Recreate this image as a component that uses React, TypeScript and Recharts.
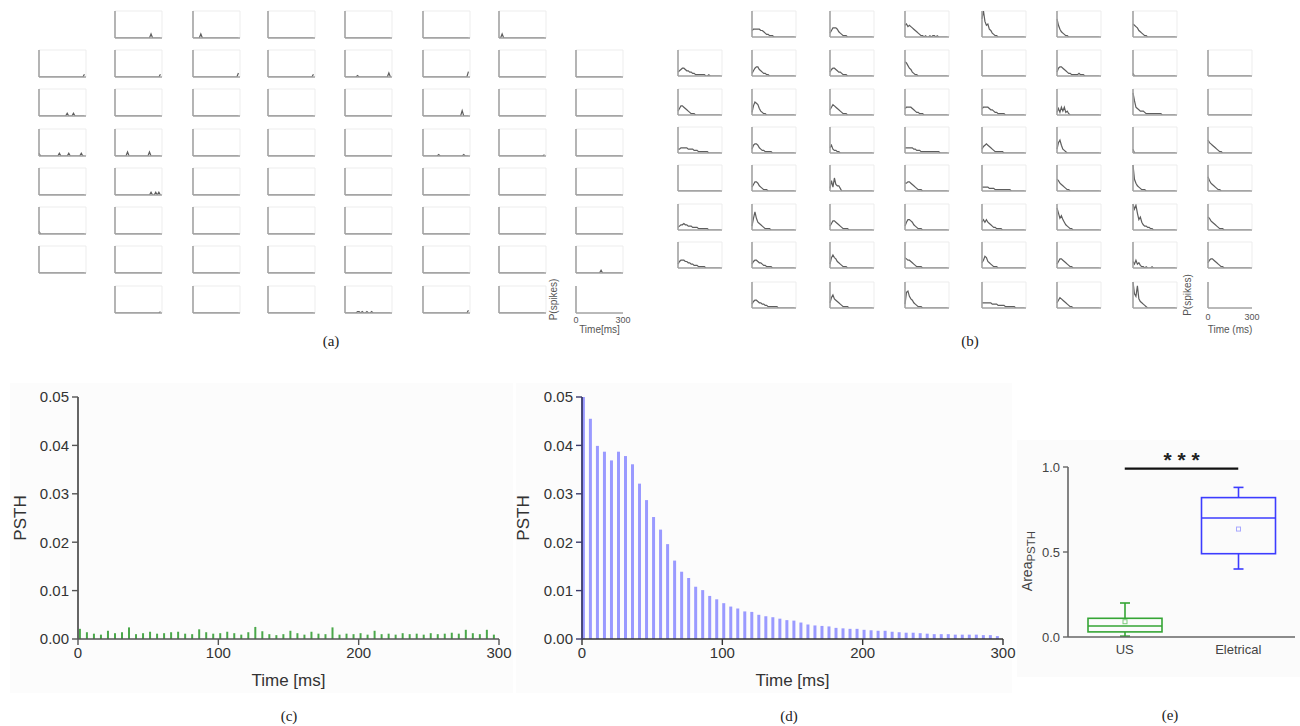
import React from 'react';
import { LineChart, Line, XAxis, YAxis, ReferenceLine, BarChart, Bar } from 'recharts';

const SANS = '"Liberation Sans", Arial, sans-serif';
const SERIF = '"Liberation Serif", "Times New Roman", serif';

// ---------------------------------------------------------------------------
// Per-electrode spike probability traces, 10 ms bins from 0 to 290 ms.
// Each character is one bin, base-36 digit in units of 0.01 (k = 0.20).
// Rows follow the 8x8 MEA layout; null marks an unused corner position.
// ---------------------------------------------------------------------------
const usGrid: (string | null)[][] = [
  [null, '000000000000000000000003', '000003', '0', '0', '0', '003', null],
  ['000000000000000000000000000002', '000000000000000000000000000002', '000000000000000000000000000003', '000000000000000000000000000002', '000000001000000000000000000030', '000000000000000000000000000004', '0', '0'],
  ['000000000000000000200020000000', '0', '0', '0', '0', '000000000000000000000000040000', '0', '0'],
  ['200000000000020000020000000200', '000000003000000000000030000000', '0', '0', '0', '000000000010000000000000001000', '000000000000000000000000000001', '0'],
  ['0', '000000000000000000000002002020', '0', '0', '0', '0', '0', '0'],
  ['200000000000000000000000000000', '0', '0', '0', '0', '0', '0', '0'],
  ['0', '0', '0', '0', '0', '0', '0', '000000000000000020000000000000'],
  [null, '000000000000000000000000000001', '0', '0', '000000001101001001000000000000', '000000000000000000000000000002', '0', null],
];

const elecGrid: (string | null)[][] = [
  [null, '566666554322111000000000000000', '357776432111000000000000000000', '9a8987654321101001011010000000', 'ekc9a6532110000000000000000000', 'e96432110000000000000000000000', 'a98754321100000000000000000000', null],
  ['345665443322111111100100000000', '246775432211000000000000000000', '356654332111000000000000000000', 'ba8653211000000000000000000000', '0', '367765432211111211100000000000', '2', '0'],
  ['357765432111000000000000000000', '27a985321100000000000000000000', '468765432111000000000000000000', '566665432211100000000000000000', '566665443221111100000000000000', '252636231000000000000000000000', 'hb6543332111111111110000000000', '0'],
  ['334444433332221111111000000000', '367764322111110000000000000000', '463221100000000000000000000000', '444444332221111111111111000000', '356765432111111000000000000000', '38a632100000000000000000000000', '3', 'a87654321100000000000000000000'],
  ['0', '357764321110000000000000000000', '283a54420000000000000000000000', '667765432111000000000000000000', '333332222111111111110000000000', '986543211000000000000000000000', 'k96432111000000000000000000000', 'b86543211000000000000000000000'],
  ['234454433322221111111000000000', '39e965432111100000000000000000', '357765432111100000000000000000', '368876432111000000000000000000', '686865432211110000000000000000', 'hd9b86432110000000000000000000', 'kgjd8a643322110000000000000000', 'a97654321110000000000000000000'],
  ['356665544332221111100000000000', '356654432211110000000000000000', '38a875432111000000000000000000', '876654321111000000000000000000', '469854321110000000000000000000', '357765432110000000000000000000', '536342110100010000000000000000', '467765432110000000000000000000'],
  [null, '356654433221111111000000000000', '48a765432111100000000000000000', '3cd976432111000000000000000000', '444444433332222211111110000000', '468765432110000000000000000000', 'kb9h75432100000000000000000000', null],
];

// Population PSTH, 5 ms bins (bin start in ms)
const binStartMs = [
  0, 5, 10, 15, 20, 25, 30, 35, 40, 45, 50, 55, 60, 65, 70, 75, 80, 85, 90, 95,
  100, 105, 110, 115, 120, 125, 130, 135, 140, 145, 150, 155, 160, 165, 170, 175, 180, 185, 190, 195,
  200, 205, 210, 215, 220, 225, 230, 235, 240, 245, 250, 255, 260, 265, 270, 275, 280, 285, 290, 295,
];

const usPsth = [
  0.0021, 0.0014, 0.0011, 0.0009, 0.0017, 0.0012, 0.0014, 0.0024, 0.0010, 0.0012,
  0.0015, 0.0011, 0.0012, 0.0014, 0.0015, 0.0011, 0.0010, 0.0020, 0.0014, 0.0011,
  0.0012, 0.0015, 0.0012, 0.0009, 0.0014, 0.0025, 0.0016, 0.0010, 0.0008, 0.0010,
  0.0017, 0.0012, 0.0009, 0.0015, 0.0011, 0.0010, 0.0024, 0.0009, 0.0011, 0.0010,
  0.0012, 0.0009, 0.0017, 0.0010, 0.0011, 0.0009, 0.0012, 0.0010, 0.0011, 0.0009,
  0.0012, 0.0010, 0.0011, 0.0013, 0.0011, 0.0019, 0.0012, 0.0010, 0.0019, 0.0009,
];

const elecPsth = [
  0.0500, 0.0455, 0.0399, 0.0387, 0.0369, 0.0387, 0.0378, 0.0361, 0.0321, 0.0287,
  0.0252, 0.0226, 0.0196, 0.0162, 0.0139, 0.0126, 0.0108, 0.0101, 0.0089, 0.0082,
  0.0074, 0.0067, 0.0063, 0.0057, 0.0056, 0.0050, 0.0047, 0.0045, 0.0042, 0.0039,
  0.0038, 0.0034, 0.0030, 0.0028, 0.0027, 0.0026, 0.0023, 0.0022, 0.0021, 0.0021,
  0.0019, 0.0018, 0.0017, 0.0017, 0.0015, 0.0014, 0.0013, 0.0013, 0.0012, 0.0011,
  0.0010, 0.0010, 0.0010, 0.0009, 0.0009, 0.0009, 0.0009, 0.0008, 0.0008, 0.0006,
];

const psthTicksY = [0, 0.01, 0.02, 0.03, 0.04, 0.05];
const timeTicks = [0, 100, 200, 300];

// Area under the PSTH, box summary per stimulation type
const boxGroups = ['US', 'Eletrical'];
const boxMin = [0.005, 0.40];
const boxQ1 = [0.03, 0.49];
const boxMedian = [0.065, 0.70];
const boxQ3 = [0.11, 0.82];
const boxMax = [0.20, 0.88];
const boxMean = [0.09, 0.635];
const areaTicks = [0, 0.5, 1];

const boxColor: Record<string, string> = { US: '#35a535', Eletrical: '#3c3cff' };
const meanColor: Record<string, string> = { US: '#7ccc7c', Eletrical: '#a8a8ff' };

// ---------------------------------------------------------------------------
const BIN_MS = 10;
const BAR_SHIFT_MS = 1;

function decodeTrace(code: string) {
  return code
    .padEnd(30, '0')
    .slice(0, 30)
    .split('')
    .map((ch, i) => ({ t: i * BIN_MS, v: parseInt(ch, 36) * 0.01 }));
}

const usPsthData = binStartMs.map((t, i) => ({ t: t + BAR_SHIFT_MS, v: usPsth[i] }));
const elecPsthData = binStartMs.map((t, i) => ({ t: t + BAR_SHIFT_MS, v: elecPsth[i] }));
const boxData = boxGroups.map((name, i) => ({
  name,
  min: boxMin[i],
  q1: boxQ1[i],
  median: boxMedian[i],
  q3: boxQ3[i],
  max: boxMax[i],
  mean: boxMean[i],
}));

const miniAxis = { stroke: '#a2a2a2', strokeWidth: 1.6 };
const miniFrame = '#ededed';

type MiniProps = { code: string; left: number; top: number; w: number; h: number };

function MiniTrace({ code, left, top, w, h }: MiniProps) {
  const data = decodeTrace(code);
  return (
    <div style={{ position: 'absolute', left: left - 1, top: top - 1 }}>
      <LineChart width={w + 2} height={h + 2} data={data} margin={{ top: 1, right: 1, bottom: 0, left: 0 }}>
        <XAxis dataKey="t" type="number" domain={[0, 300]} tick={false} tickLine={false} height={1} axisLine={miniAxis} />
        <YAxis type="number" domain={[0, 0.2]} allowDataOverflow tick={false} tickLine={false} width={1} axisLine={miniAxis} />
        <ReferenceLine y={0.2} stroke={miniFrame} strokeWidth={1} />
        <ReferenceLine x={300} stroke={miniFrame} strokeWidth={1} />
        <Line type="linear" dataKey="v" stroke="#5e5e5e" strokeWidth={1.2} dot={false} isAnimationActive={false} />
      </LineChart>
    </div>
  );
}

type KeyProps = {
  left: number; top: number; w: number; h: number;
  xTitle: string; yTitleDx: number; xTitleDy: number; xTickGap: number;
};

function ScaleKey({ left, top, w, h, xTitle, yTitleDx, xTitleDy, xTickGap }: KeyProps) {
  const ml = 8, yW = 26, mt = 16, mr = 16, xH = 30;
  const tickStyle = { fontSize: 9, fill: '#555', fontFamily: SANS };
  return (
    <div style={{ position: 'absolute', left: left - ml - yW, top: top - mt }}>
      <LineChart width={ml + yW + w + mr} height={mt + h + xH} data={[{ t: 0 }, { t: 300 }]} margin={{ top: mt, right: mr, left: ml, bottom: 0 }}>
        <XAxis
          dataKey="t" type="number" domain={[0, 300]} ticks={[0, 300]}
          tickLine={false} tickSize={0} tickMargin={xTickGap} height={xH}
          axisLine={miniAxis} tick={tickStyle}
          label={(p: any) => {
            const vb = p.viewBox || { x: 0, y: 0, width: 0, height: 0 };
            return (
              <text x={vb.x + vb.width / 2} y={vb.y + xTitleDy} textAnchor="middle" fontSize={10} fill="#555" fontFamily={SANS}>
                {xTitle}
              </text>
            );
          }}
        />
        <YAxis
          type="number" domain={[0, 0.2]} ticks={[0, 0.2]} width={yW}
          tickLine={false} tickSize={0} tickMargin={2}
          axisLine={miniAxis} tick={tickStyle}
          tickFormatter={(v: number) => (v === 0 ? '0' : String(v))}
          label={(p: any) => {
            const vb = p.viewBox || { x: 0, y: 0, width: 0, height: 0 };
            const cx = vb.x + vb.width + yTitleDx;
            const cy = vb.y + vb.height / 2;
            return (
              <text x={cx} y={cy} transform={`rotate(-90 ${cx} ${cy})`} textAnchor="middle" dominantBaseline="central" fontSize={10} fill="#555" fontFamily={SANS}>
                P(spikes)
              </text>
            );
          }}
        />
        <ReferenceLine y={0.2} stroke={miniFrame} strokeWidth={1} />
        <ReferenceLine x={300} stroke={miniFrame} strokeWidth={1} />
      </LineChart>
    </div>
  );
}

type GridProps = {
  grid: (string | null)[][];
  cols: number[];
  rows: number[];
  w: number;
  h: number;
};

function ElectrodeGrid({ grid, cols, rows, w, h }: GridProps) {
  const cells: React.ReactNode[] = [];
  grid.forEach((row, r) =>
    row.forEach((code, c) => {
      if (code === null) return;
      cells.push(<MiniTrace key={`${r}-${c}`} code={code} left={cols[c]} top={rows[r]} w={w} h={h} />);
    })
  );
  return <>{cells}</>;
}

// Axis titles placed from the axis box that Recharts hands to the label
const psthYTitle = (dx: number) => (p: any) => {
  const vb = p.viewBox || { x: 0, y: 0, width: 0, height: 0 };
  const cx = vb.x + dx;
  const cy = vb.y + vb.height / 2;
  return (
    <text x={cx} y={cy} transform={`rotate(-90 ${cx} ${cy})`} textAnchor="middle" dominantBaseline="central" fontSize={17} fill="#333" fontFamily={SANS}>
      PSTH
    </text>
  );
};

const timeXTitle = (p: any) => {
  const vb = p.viewBox || { x: 0, y: 0, width: 0, height: 0 };
  return (
    <text x={vb.x + vb.width / 2} y={vb.y + 47} textAnchor="middle" fontSize={17} fill="#333" fontFamily={SANS}>
      Time [ms]
    </text>
  );
};

type PsthProps = {
  data: { t: number; v: number }[];
  left: number;
  fill: string;
  barSize: number;
  xAxisColor: string;
  yAxisColor: string;
  yTitleDx: number;
};

function PsthChart({ data, left, fill, barSize, xAxisColor, yAxisColor, yTitleDx }: PsthProps) {
  const tick = { fontSize: 15, fill: '#333', fontFamily: SANS };
  return (
    <div style={{ position: 'absolute', left, top: 385 }}>
      <BarChart width={502} height={304} data={data} margin={{ top: 12, right: 13, left: 8, bottom: 0 }}>
        <XAxis
          dataKey="t" type="number" domain={[0, 300]} ticks={timeTicks} height={50}
          tickSize={6} tickMargin={2}
          axisLine={{ stroke: xAxisColor, strokeWidth: 1.6 }}
          tickLine={{ stroke: xAxisColor, strokeWidth: 1.4 }}
          tick={tick} label={timeXTitle}
        />
        <YAxis
          type="number" domain={[0, 0.05]} ticks={psthTicksY} width={60}
          tickSize={6} tickMargin={3}
          tickFormatter={(v: number) => v.toFixed(2)}
          axisLine={{ stroke: yAxisColor, strokeWidth: 1.8 }}
          tickLine={{ stroke: yAxisColor, strokeWidth: 1.4 }}
          tick={tick} label={psthYTitle(yTitleDx)}
        />
        <Bar dataKey="v" fill={fill} barSize={barSize} isAnimationActive={false} />
      </BarChart>
    </div>
  );
}

function BoxGlyph(props: any) {
  const { x, y, width, height, payload } = props;
  if (!payload) return null;
  const top = Math.min(y, y + height);
  const span = Math.abs(height);
  const lo = payload.min;
  const hi = payload.max;
  const py = (v: number) => top + ((hi - v) / (hi - lo)) * span;
  const color = boxColor[payload.name];
  const cx = x + width / 2;
  const cap = 5;
  return (
    <g stroke={color} strokeWidth={1.6} fill="none">
      <line x1={cx} x2={cx} y1={py(payload.max)} y2={py(payload.q3)} />
      <line x1={cx - cap} x2={cx + cap} y1={py(payload.max)} y2={py(payload.max)} />
      <line x1={cx} x2={cx} y1={py(payload.q1)} y2={py(payload.min)} />
      <line x1={cx - cap} x2={cx + cap} y1={py(payload.min)} y2={py(payload.min)} />
      <rect x={x} y={py(payload.q3)} width={width} height={py(payload.q1) - py(payload.q3)} />
      <line x1={x} x2={x + width} y1={py(payload.median)} y2={py(payload.median)} />
      <rect x={cx - 2} y={py(payload.mean) - 2} width={4} height={4} stroke={meanColor[payload.name]} strokeWidth={1} />
    </g>
  );
}

const areaYTitle = (p: any) => {
  const vb = p.viewBox || { x: 0, y: 0, width: 0, height: 0 };
  const cx = vb.x - 1;
  const cy = vb.y + vb.height / 2 + 9;
  return (
    <text x={cx} y={cy} transform={`rotate(-90 ${cx} ${cy})`} textAnchor="middle" dominantBaseline="central" fontSize={14} fill="#444" fontFamily={SANS}>
      Area
      <tspan fontSize={11.5} dy={4}>PSTH</tspan>
    </text>
  );
};

function AreaBoxChart() {
  const tick = { fontSize: 13, fill: '#444', fontFamily: SANS };
  return (
    <div style={{ position: 'absolute', left: 1020, top: 437 }}>
      <BarChart width={280} height={230} data={boxData} margin={{ top: 30, right: 5, left: 8, bottom: 0 }}>
        <XAxis dataKey="name" height={30} tickLine={false} tickSize={0} tickMargin={8} axisLine={{ stroke: '#666', strokeWidth: 1.6 }} tick={tick} />
        <YAxis
          type="number" domain={[0, 1]} ticks={areaTicks} width={40}
          tickSize={5} tickMargin={3}
          tickFormatter={(v: number) => v.toFixed(1)}
          axisLine={{ stroke: '#666', strokeWidth: 1.6 }}
          tickLine={{ stroke: '#666', strokeWidth: 1.4 }}
          tick={tick} label={areaYTitle}
        />
        <Bar dataKey={(d: any) => [d.min, d.max]} barSize={74} shape={BoxGlyph} isAnimationActive={false} />
        <ReferenceLine
          segment={[{ x: 'US', y: 0.99 }, { x: 'Eletrical', y: 0.99 }]}
          stroke="#111" strokeWidth={2.2}
          label={{ value: '* * *', position: 'top', offset: 2, fontSize: 21, fontWeight: 'bold', fill: '#222', fontFamily: SANS }}
        />
      </BarChart>
    </div>
  );
}

function PanelTag({ text, x, y }: { text: string; x: number; y: number }) {
  return (
    <div style={{ position: 'absolute', left: x, top: y, transform: 'translate(-50%, -50%)', fontFamily: SERIF, fontSize: 15, color: '#222', whiteSpace: 'nowrap' }}>
      {text}
    </div>
  );
}

const usCols = [39, 115, 193, 268, 345, 423, 499, 576];
const usRows = [11, 50, 89, 129, 168, 207, 246, 286];
const elecCols = [678, 752, 830, 905, 982, 1057, 1133, 1208];
const elecRows = [11, 50, 89, 127, 165, 204, 242, 282];

export default function App() {
  return (
    <div style={{ position: 'absolute', left: 0, top: 0, width: 1300, height: 726, background: '#ffffff', overflow: 'hidden', fontFamily: SANS }}>
      <div style={{ position: 'absolute', left: 10, top: 383, width: 503, height: 310, background: '#fcfcfc' }} />
      <div style={{ position: 'absolute', left: 516, top: 383, width: 496, height: 310, background: '#fcfcfc' }} />
      <div style={{ position: 'absolute', left: 1017, top: 440, width: 283, height: 237, background: '#fbfbfb' }} />

      <ElectrodeGrid grid={usGrid} cols={usCols} rows={usRows} w={47} h={27} />
      <ScaleKey left={576} top={286} w={47} h={27} xTitle="Time[ms]" yTitleDx={-23} xTitleDy={20} xTickGap={4} />
      <ElectrodeGrid grid={elecGrid} cols={elecCols} rows={elecRows} w={44} h={26} />
      <ScaleKey left={1208} top={282} w={44} h={26} xTitle="Time (ms)" yTitleDx={-21} xTitleDy={25} xTickGap={6} />

      <PsthChart data={usPsthData} left={10} fill="#4aa84a" barSize={2} xAxisColor="#555" yAxisColor="#555" yTitleDx={2} />
      <PsthChart data={elecPsthData} left={514} fill="#9a9aff" barSize={3} xAxisColor="#333" yAxisColor="#3b3b6b" yTitleDx={1} />
      <AreaBoxChart />

      <PanelTag text="(a)" x={331} y={341} />
      <PanelTag text="(b)" x={970} y={341} />
      <PanelTag text="(c)" x={289} y={716} />
      <PanelTag text="(d)" x={789} y={716} />
      <PanelTag text="(e)" x={1170} y={715} />
    </div>
  );
}
